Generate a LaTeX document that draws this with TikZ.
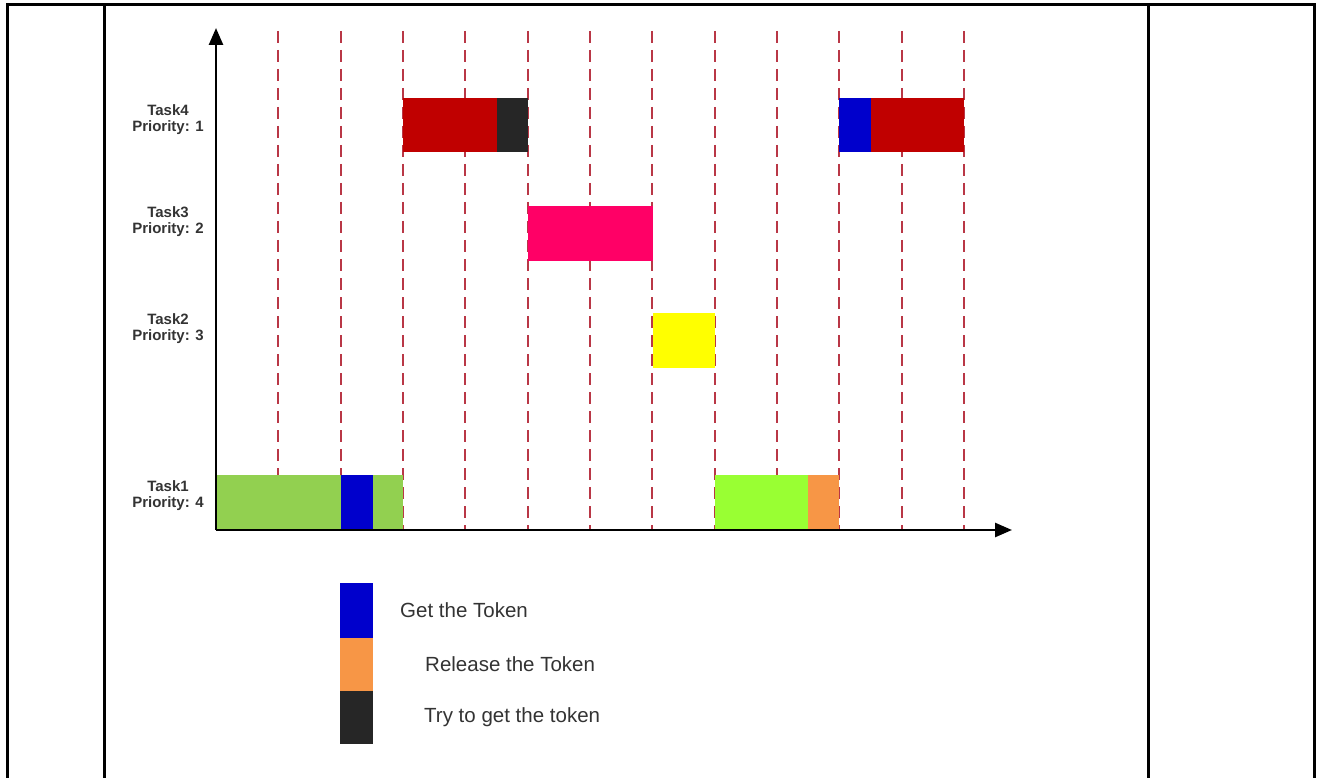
\documentclass[tikz,border=0pt]{standalone}
\usepackage{fontspec}
\setmainfont{Liberation Sans}
\usetikzlibrary{arrows.meta}
\definecolor{dashred}{RGB}{185,55,70}
\definecolor{barred}{RGB}{192,0,0}
\definecolor{bardark}{RGB}{38,38,38}
\definecolor{barblue}{RGB}{0,0,204}
\definecolor{barpink}{RGB}{255,0,102}
\definecolor{baryellow}{RGB}{255,255,0}
\definecolor{bargreen}{RGB}{146,208,80}
\definecolor{barlime}{RGB}{153,255,51}
\definecolor{barorange}{RGB}{247,150,70}
\tikzset{
  frameline/.style={line width=3pt, black},
  axisline/.style={line width=2.6pt, black, -{Triangle[length=17pt,width=14pt]}},
  gridline/.style={line width=1.8pt, dashred, dash pattern=on 12pt off 7pt},
  tasklabel/.style={font=\fontsize{15}{16}\selectfont\bfseries, align=center, text=black!80, inner sep=0pt},
  legtext/.style={font=\fontsize{20.5}{22}\selectfont, text=black!80, anchor=west, inner sep=0pt},
}
\begin{document}
\begin{tikzpicture}[x=1pt,y=-1pt]
\useasboundingbox (0,0) rectangle (1320,778);
% frame
\draw[frameline] (7,778) -- (7,5) -- (1314,5) -- (1314,778);
\draw[frameline] (104,5) -- (104,778);
\draw[frameline] (1148,5) -- (1148,778);
% grid
\foreach \k in {1,...,12} {
  \draw[gridline] ({216+62.33*\k},31) -- ({216+62.33*\k},530);
}
% bars
\fill[barred] (403,98) rectangle (497,152);
\fill[bardark] (497,98) rectangle (528,152);
\fill[barblue] (839,98) rectangle (871,152);
\fill[barred] (871,98) rectangle (964,152);
\fill[barpink] (528,206) rectangle (653,261);
\fill[baryellow] (653,313) rectangle (715,368);
\fill[bargreen] (216,475) rectangle (341,530);
\fill[barblue] (341,475) rectangle (373,530);
\fill[bargreen] (373,475) rectangle (403,530);
\fill[barlime] (715,475) rectangle (808,530);
\fill[barorange] (808,475) rectangle (839,530);
% axes
\coordinate (origin) at (216,530);
\coordinate (ytop) at (216,28);
\coordinate (xend) at (1012,530);
\draw[axisline] (origin) -- (ytop);
\draw[axisline] (216,530) -- (xend);
% labels
\node[tasklabel] (t4) at (168,120) {Task4\\Priority: 1};
\node[tasklabel] (t3) at (168,222) {Task3\\Priority: 2};
\node[tasklabel] (t2) at (168,329) {Task2\\Priority: 3};
\node[tasklabel] (t1) at (168,496) {Task1\\Priority: 4};
% legend
\fill[barblue] (340,583) rectangle (373,638);
\fill[barorange] (340,638) rectangle (373,691);
\fill[bardark] (340,691) rectangle (373,744);
\node[legtext] (l1) at (400,610) {Get the Token};
\node[legtext] (l2) at (425,664) {Release the Token};
\node[legtext] (l3) at (424,717) {Try to get the token};
\end{tikzpicture}
\end{document}
